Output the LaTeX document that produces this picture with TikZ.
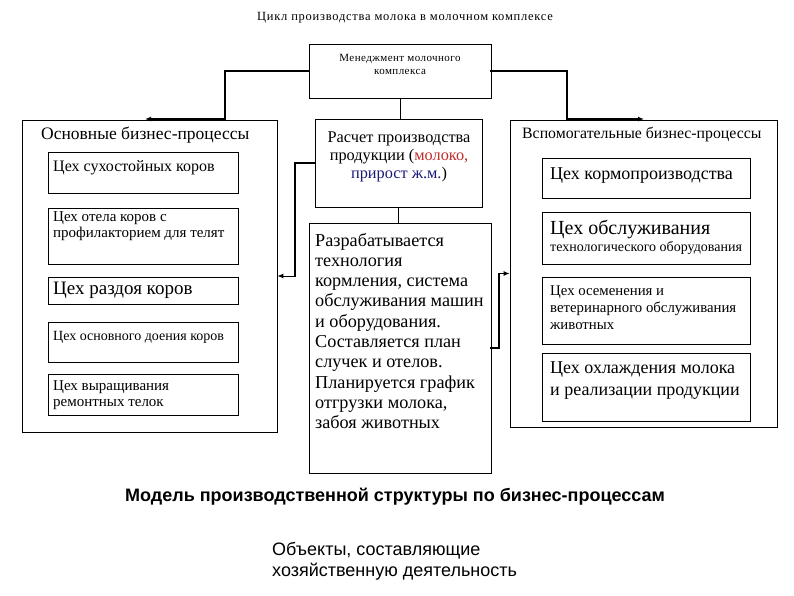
\documentclass[tikz,border=0pt]{standalone}
\usepackage{fontspec}
\setmainfont{Liberation Serif}
\setsansfont{Liberation Sans}
\usetikzlibrary{arrows.meta,fit}
\newcommand{\fsz}[2]{\fontsize{#1}{#2}\selectfont}
\definecolor{milkred}{RGB}{192,45,45}
\definecolor{gainblue}{RGB}{25,25,120}
\begin{document}
\begin{tikzpicture}[x=1pt,y=-1pt,
  box/.style={draw,line width=0.8pt,inner sep=0pt},
  txt/.style={inner sep=0pt,align=left,anchor=west},
  ctxt/.style={inner sep=0pt,align=center},
  heavy/.style={line width=2pt,line cap=rect},
  medium/.style={line width=1.3pt,line cap=rect},
  light/.style={line width=1pt,line cap=rect},
  thinconn/.style={line width=0.8pt},
  arr/.style={-{Latex[length=6pt,width=5pt]}}]
\useasboundingbox[fill=white] (0,0) rectangle (794,595);

% title
\node[ctxt,font={\fsz{12.5}{14}\addfontfeatures{LetterSpace=6}}] (title) at (405,18) {Цикл производства молока в молочном комплексе};

% management
\node[box,fit={(309,44) (491,98)}] (mgmt) {};
\node[ctxt,font={\fsz{11}{13}\addfontfeatures{LetterSpace=4}}] (mgmtt) at (400,64) {Менеджмент молочного\\комплекса};

% left group
\node[box,fit={(22,120) (277,432)}] (lb) {};
\node[txt,font=\fsz{17.5}{20}] (lbt) at (41,135) {Основные бизнес-процессы};
\node[box,fit={(48,152) (238,193)}] (l1) {};
\node[txt,font=\fsz{16}{18}] (l1t) at (53,168) {Цех сухостойных коров};
\node[box,fit={(48,208) (238,264)}] (l2) {};
\node[txt,font=\fsz{15}{16}] (l2t) at (53,226) {Цех отела коров с\\профилакторием для телят};
\node[box,fit={(48,277) (238,304)}] (l3) {};
\node[txt,font=\fsz{19}{20}] (l3t) at (53,290) {Цех раздоя коров};
\node[box,fit={(48,322) (238,362)}] (l4) {};
\node[txt,font=\fsz{14}{16}] (l4t) at (53,337) {Цех основного доения коров};
\node[box,fit={(48,374) (238,415)}] (l5) {};
\node[txt,font=\fsz{15}{16}] (l5t) at (53,395) {Цех выращивания\\ремонтных телок};

% centre
\node[box,fit={(315,119) (482,207)}] (calc) {};
\node[ctxt,font=\fsz{16.3}{18}] (calct) at (399,157) {Расчет производства\\продукции (\textcolor{milkred}{молоко,}\\\textcolor{gainblue}{прирост ж.м.})};
\node[box,fit={(309,223) (491,473)}] (tbox) {};
\node[txt,font=\fsz{18.2}{20.3}] (tboxt) at (315,331) {Разрабатывается\\технология\\кормления, система\\обслуживания машин\\и оборудования.\\Составляется план\\случек и отелов.\\Планируется график\\отгрузки молока,\\забоя животных};

% right group
\node[box,fit={(510,120) (777,427)}] (rb) {};
\node[txt,font=\fsz{15.8}{18}] (rbt) at (522,135) {Вспомогательные бизнес-процессы};
\node[box,fit={(542,158) (750,198)}] (r1) {};
\node[txt,font=\fsz{18}{20}] (r1t) at (550,176) {Цех кормопроизводства};
\node[box,fit={(542,212) (750,264)}] (r2) {};
\node[txt,font=\fsz{20}{22}] (r2t) at (550,229) {Цех обслуживания};
\node[txt,font=\fsz{14}{16}] (r2s) at (550,248) {технологического оборудования};
\node[box,fit={(542,277) (750,344)}] (r3) {};
\node[txt,font=\fsz{14.8}{17}] (r3t) at (550,308) {Цех осеменения и\\ветеринарного обслуживания\\животных};
\node[box,fit={(542,353) (750,421)}] (r4) {};
\node[txt,font=\fsz{18}{22}] (r4t) at (550,381) {Цех охлаждения молока\\и реализации продукции};

% bottom texts
\node[ctxt,font={\sffamily\bfseries\fsz{18}{20}}] (model) at (395,497) {Модель производственной структуры по бизнес-процессам};
\node[txt,font={\sffamily\fsz{18}{21}}] (objs) at (272,561.5) {Объекты, составляющие\\хозяйственную деятельность};

% connectors
\coordinate (lcorner) at (225,119);
\coordinate (ltip) at (145,119);
\coordinate (rcorner) at (567,119);
\coordinate (rtip) at (644,119);
\coordinate (ltop) at (mgmt.west -| lcorner);
\coordinate (rtop) at (mgmt.east -| rcorner);
\draw[heavy] (mgmt.west) -- (ltop);
\draw[medium] (ltop) -- (lcorner);
\draw[heavy,arr] (lcorner) -- (ltip);
\draw[heavy] (mgmt.east) -- (rtop);
\draw[medium] (rtop) -- (rcorner);
\draw[heavy,arr] (rcorner) -- (rtip);
\draw[thinconn] (mgmt.south) -- (mgmt.south |- calc.north);
\draw[thinconn] (calc.south) -- (calc.south |- tbox.north);
\coordinate (cx) at (295,0);
\coordinate (ctop) at (calc.west -| cx);
\coordinate (cbot) at (lb.east -| cx);
\draw[heavy] (calc.west) -- (ctop);
\draw[medium] (ctop) -- (cbot);
\draw[light,arr] (cbot) -- (lb.east);
\coordinate (tx) at (499,0);
\coordinate (tbot) at (tbox.east -| tx);
\coordinate (ttop) at (rb.west -| tx);
\draw[heavy] (tbox.east) -- (tbot);
\draw[medium] (tbot) -- (ttop);
\draw[light,arr] (ttop) -- (rb.west);
\end{tikzpicture}
\end{document}
